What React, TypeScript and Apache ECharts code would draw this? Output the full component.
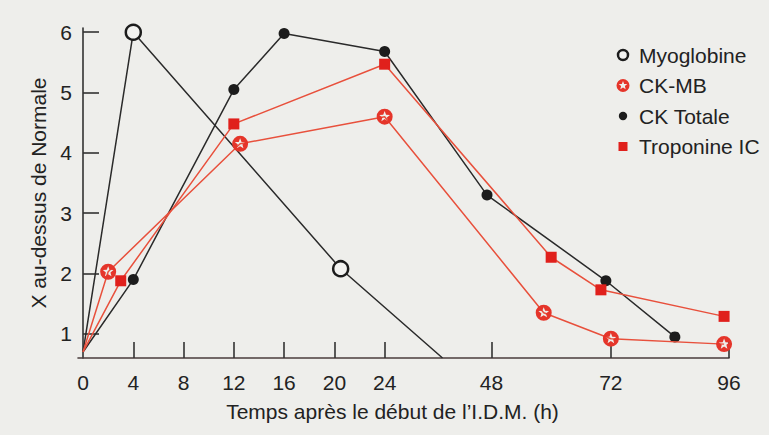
import React, { useEffect, useRef } from "react";
import * as echarts from "echarts";

// Axis scale breakpoints (hours -> compressed axis units beyond 24 h)
const HOUR_ANCHORS = [0, 24, 48, 72, 96];
const AXIS_ANCHORS = [0, 24, 32.5, 42, 51.4];

const xLabelHours = [0, 4, 8, 12, 16, 20, 24, 48, 72, 96];
const xTickHours = [4, 8, 12, 16, 20, 24, 48, 72, 96];
const yTicks = [1, 2, 3, 4, 5, 6];

const myoHours = [0, 4, 20.5, 37];
const myoValues = [0.7, 6.0, 2.08, 0.6];

const ckmbHours = [0, 2, 12.5, 24, 58.5, 72, 95];
const ckmbValues = [0.7, 2.03, 4.15, 4.6, 1.35, 0.92, 0.83];

const ckTotHours = [0, 4, 12, 16, 24, 47, 71, 85];
const ckTotValues = [0.7, 1.9, 5.05, 5.98, 5.68, 3.3, 1.88, 0.95];

const tropHours = [0, 3, 12, 24, 60, 70, 95];
const tropValues = [0.7, 1.88, 4.48, 5.47, 2.27, 1.73, 1.29];

const Y_MIN = 0.6;
const Y_MAX = 6.07;

const FONT = "'Liberation Sans', Arial, Helvetica, sans-serif";

function toAxis(h: number): number {
  for (let i = 0; i < HOUR_ANCHORS.length - 1; i++) {
    const h0 = HOUR_ANCHORS[i];
    const h1 = HOUR_ANCHORS[i + 1];
    if (h <= h1 || i === HOUR_ANCHORS.length - 2) {
      const a0 = AXIS_ANCHORS[i];
      const a1 = AXIS_ANCHORS[i + 1];
      return a0 + ((h - h0) / (h1 - h0)) * (a1 - a0);
    }
  }
  return h;
}

const STAR_PATH =
  "M10 0 A10 10 0 1 1 10 20 A10 10 0 1 1 10 0 Z " +
  "M10 3 L8.24 7.57 L3.34 7.84 L7.15 10.93 L5.88 15.66 L10 13 L14.12 15.66 L12.85 10.93 L16.66 7.84 L11.76 7.57 Z";
const STAR_SYMBOL = "path://" + STAR_PATH;

const RED = "#e5352a";
const RED_LINE = "#e8503c";
const SQUARE_RED = "#e0201c";
const BLACK = "#1c1c1c";
const OPEN_FILL = "#f2f2f0";

function svgIcon(inner: string): string {
  const svg =
    '<svg xmlns="http://www.w3.org/2000/svg" width="22" height="22" viewBox="0 0 22 22">' +
    inner +
    "</svg>";
  return "image://data:image/svg+xml;charset=utf-8," + encodeURIComponent(svg);
}

function buildData(hours: number[], values: number[]) {
  return hours.map((h, i) => {
    const v = values[i];
    const item: any = { value: [toAxis(h), v] };
    if (h === 0 || v <= Y_MIN) item.symbol = "none";
    return item;
  });
}

export default function App() {
  const ref = useRef<HTMLDivElement>(null);
  useEffect(() => {
    const chart = echarts.init(ref.current!, null, { renderer: "svg" });
    const xLabelAxis = xLabelHours.map(toAxis);
    const xTickAxis = xTickHours.map(toAxis);
    const option: any = {
      animation: false,
      backgroundColor: "#eeeeeb",
      textStyle: { fontFamily: FONT },
      grid: { left: 78, right: 40, top: 28, bottom: 77, outerBoundsMode: "none" },
      legend: {
        orient: "vertical",
        left: 612,
        top: 44,
        padding: 0,
        itemWidth: 22,
        itemHeight: 22,
        itemGap: 8.5,
        textStyle: { fontSize: 21, color: "#222", fontFamily: FONT, lineHeight: 22 },
        data: [
          {
            name: "Myoglobine",
            icon: svgIcon(
              `<circle cx="11" cy="11" r="5" fill="${OPEN_FILL}" stroke="${BLACK}" stroke-width="2.5"/>`
            ),
          },
          {
            name: "CK-MB",
            icon: svgIcon(
              `<g transform="translate(4.5,4.5) scale(0.65)"><path d="${STAR_PATH}" fill="${RED}"/></g>`
            ),
          },
          {
            name: "CK Totale",
            icon: svgIcon(`<circle cx="11" cy="11" r="4.2" fill="${BLACK}"/>`),
          },
          {
            name: "Troponine IC",
            icon: svgIcon(`<rect x="6.5" y="6.5" width="9" height="9" fill="${SQUARE_RED}"/>`),
          },
        ],
      },
      xAxis: {
        type: "value",
        min: -0.4,
        max: 51.4,
        axisLine: { show: true, onZero: false, lineStyle: { color: "#4a3c3c", width: 1.6 } },
        axisTick: {
          show: true,
          inside: true,
          length: 16,
          customValues: xTickAxis,
          lineStyle: { color: "#333", width: 1.6 },
        },
        axisLabel: {
          customValues: xLabelAxis,
          fontSize: 21,
          color: "#222",
          margin: 14,
          fontFamily: FONT,
          formatter: (v: number) => {
            const i = xLabelAxis.findIndex((a) => Math.abs(a - v) < 1e-6);
            return i >= 0 ? String(xLabelHours[i]) : "";
          },
        },
        splitLine: { show: false },
        name: "Temps après le début de l’I.D.M. (h)",
        nameLocation: "middle",
        nameGap: 43,
        nameTextStyle: { fontSize: 21, color: "#222", fontFamily: FONT, padding: [0, 22, 0, 0] },
      },
      yAxis: {
        type: "value",
        min: Y_MIN,
        max: Y_MAX,
        axisLine: { show: true, lineStyle: { color: "#333", width: 1.6 } },
        axisTick: {
          show: true,
          inside: true,
          length: 16,
          customValues: yTicks,
          lineStyle: { color: "#333", width: 1.6 },
        },
        axisLabel: {
          customValues: yTicks,
          fontSize: 21,
          color: "#222",
          margin: 6,
          fontFamily: FONT,
        },
        splitLine: { show: false },
        name: "X au-dessus de Normale",
        nameLocation: "middle",
        nameGap: 23,
        nameTextStyle: { fontSize: 21, color: "#222", fontFamily: FONT },
      },
      series: [
        {
          name: "Myoglobine",
          type: "line",
          data: buildData(myoHours, myoValues),
          symbol: "circle",
          symbolSize: 15,
          itemStyle: { color: OPEN_FILL, borderColor: BLACK, borderWidth: 2.5 },
          lineStyle: { color: "#2a2a2a", width: 1.5 },
          z: 3,
        },
        {
          name: "CK Totale",
          type: "line",
          data: buildData(ckTotHours, ckTotValues),
          symbol: "circle",
          symbolSize: 11,
          itemStyle: { color: BLACK },
          lineStyle: { color: "#2a2a2a", width: 1.5 },
          z: 3,
        },
        {
          name: "Troponine IC",
          type: "line",
          data: buildData(tropHours, tropValues),
          symbol: "rect",
          symbolSize: 11,
          itemStyle: { color: SQUARE_RED },
          lineStyle: { color: RED_LINE, width: 1.5 },
          z: 4,
        },
        {
          name: "CK-MB",
          type: "line",
          data: buildData(ckmbHours, ckmbValues),
          symbol: STAR_SYMBOL,
          symbolSize: 16,
          itemStyle: { color: RED },
          lineStyle: { color: RED_LINE, width: 1.5 },
          z: 5,
        },
      ],
    };
    chart.setOption(option);
    return () => chart.dispose();
  }, []);
  return (
    <div
      ref={ref}
      style={{ position: "fixed", left: 0, top: 0, width: 769, height: 435 }}
    />
  );
}
